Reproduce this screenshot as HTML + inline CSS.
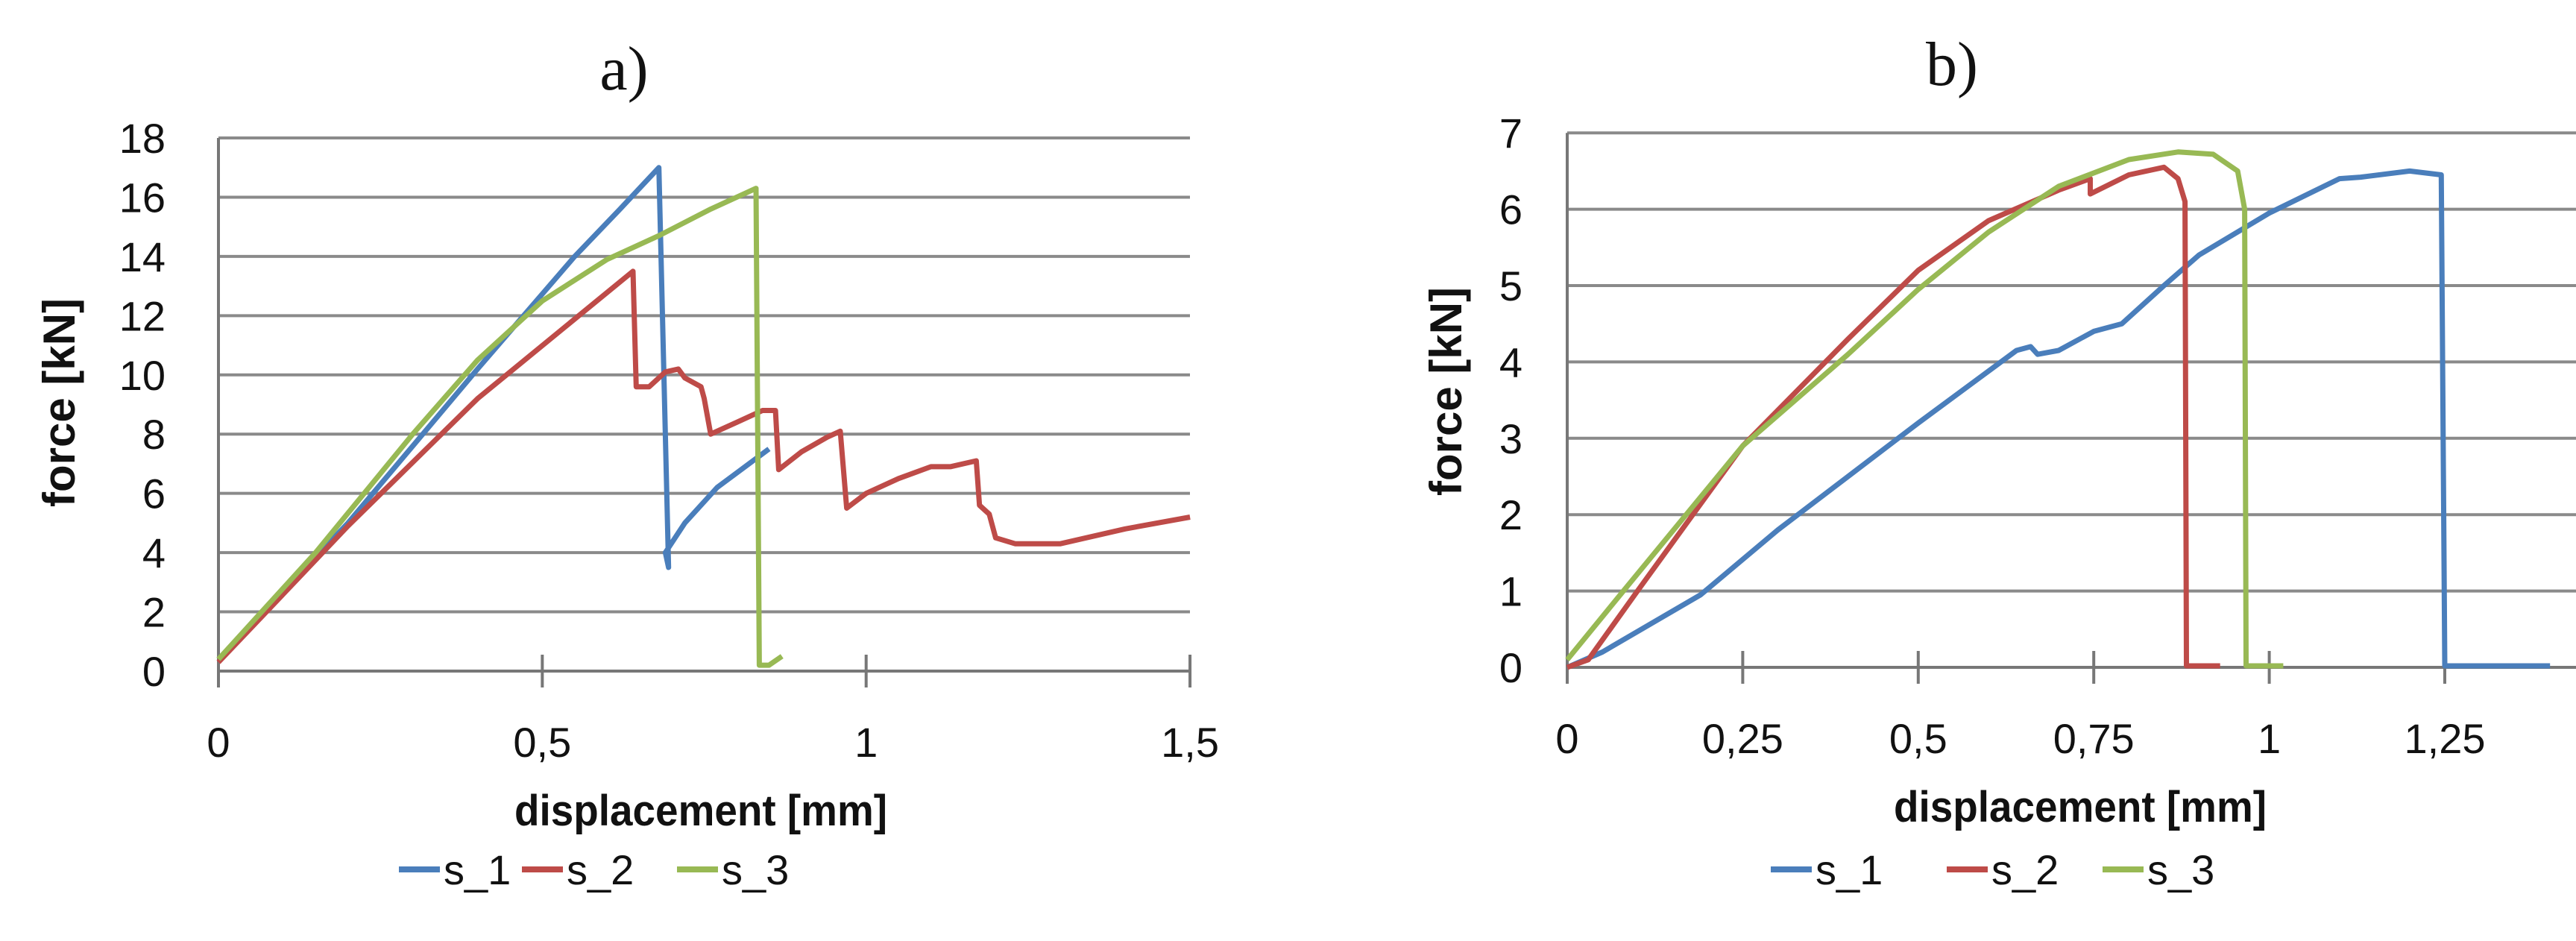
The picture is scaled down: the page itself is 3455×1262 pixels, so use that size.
<!DOCTYPE html>
<html><head><meta charset="utf-8"><style>
html,body{margin:0;padding:0;background:#fff;width:3455px;height:1262px;overflow:hidden}
svg{display:block}
text{font-family:"Liberation Sans",sans-serif;fill:#111}
</style></head><body>
<svg id="s" width="3455" height="1262" viewBox="0 0 3455 1262" xmlns="http://www.w3.org/2000/svg">
<text x="837" y="120" style="font-family:'Liberation Serif',serif" font-size="84" text-anchor="middle">a)</text>
<text x="2618" y="114" style="font-family:'Liberation Serif',serif" font-size="84" text-anchor="middle">b)</text>
<g id="g"></g>
</svg>
<script>
var g=document.getElementById('g'),h='';
var C={b:'#4a7ebb',r:'#be4b48',gr:'#98b954'};
function chart(o){
 var X=function(v){return o.x0+v*o.sx},Y=function(v){return o.y0-v*o.sy};
 for(var i=1;i<=o.ny;i++){var y=Y(i*o.dy);h+='<line x1="'+o.x0+'" y1="'+y+'" x2="'+o.xr+'" y2="'+y+'" stroke="#8a8a8a" stroke-width="4"/>';}
 h+='<line x1="'+o.x0+'" y1="'+o.y0+'" x2="'+o.xr+'" y2="'+o.y0+'" stroke="#777" stroke-width="4"/>';
 h+='<line x1="'+o.x0+'" y1="'+Y(o.ny*o.dy)+'" x2="'+o.x0+'" y2="'+(o.y0+22)+'" stroke="#777" stroke-width="4"/>';
 o.xt.forEach(function(t){var x=X(t[0]);h+='<line x1="'+x+'" y1="'+(o.y0-22)+'" x2="'+x+'" y2="'+(o.y0+22)+'" stroke="#777" stroke-width="4"/>';
  h+='<text x="'+x+'" y="'+(o.y0+115)+'" font-size="56" text-anchor="middle">'+t[1]+'</text>';});
 for(var i=0;i<=o.ny;i++){h+='<text x="'+o.lx+'" y="'+(Y(i*o.dy)+20)+'" font-size="56" text-anchor="end">'+(i*o.dy)+'</text>';}
 o.series.forEach(function(s){var d='';s[1].forEach(function(p,k){d+=(k?'L':'M')+X(p[0]).toFixed(1)+','+Y(p[1]).toFixed(1);});
  h+='<path d="'+d+'" fill="none" stroke="'+s[0]+'" stroke-width="7" stroke-linejoin="round"/>';});
 h+='<text x="'+o.ax+'" y="'+(o.y0+207)+'" font-size="58" font-weight="bold" text-anchor="middle" textLength="500" lengthAdjust="spacingAndGlyphs">displacement [mm]</text>';
 h+='<text transform="translate('+o.fx+','+o.fy+') rotate(-90)" font-size="60" font-weight="bold" text-anchor="middle">force [kN]</text>';
 o.leg.forEach(function(l){h+='<line x1="'+l[0]+'" y1="1166" x2="'+(l[0]+55)+'" y2="1166" stroke="'+l[1]+'" stroke-width="8"/><text x="'+(l[0]+60)+'" y="1186" font-size="56">'+l[2]+'</text>';});
}
chart({x0:293,xr:1596,sx:868.7,y0:900,sy:39.72,dy:2,ny:9,lx:222,ax:940,fx:100,fy:540,
 xt:[[0,'0'],[0.5,'0,5'],[1,'1'],[1.5,'1,5']],
 leg:[[535,C.b,'s_1'],[700,C.r,'s_2'],[908,C.gr,'s_3']],
 series:[
 [C.b,[[0,0.4],[0.2,5],[0.4,10.2],[0.55,14],[0.62,15.6],[0.68,17],[0.695,3.5],[0.69,4],[0.72,5],[0.77,6.2],[0.85,7.5]]],
 [C.r,[[0,0.3],[0.2,4.9],[0.4,9.2],[0.64,13.5],[0.645,9.6],[0.665,9.6],[0.69,10.1],[0.71,10.2],[0.72,9.9],[0.745,9.6],[0.75,9.2],[0.76,8.0],[0.8,8.4],[0.84,8.8],[0.86,8.8],[0.865,6.8],[0.9,7.4],[0.94,7.9],[0.96,8.1],[0.97,5.5],[1.0,6.0],[1.05,6.5],[1.1,6.9],[1.13,6.9],[1.17,7.1],[1.175,5.6],[1.19,5.3],[1.2,4.5],[1.23,4.3],[1.3,4.3],[1.4,4.8],[1.5,5.2]]],
 [C.gr,[[0,0.4],[0.15,4],[0.3,8],[0.4,10.5],[0.5,12.5],[0.6,13.9],[0.68,14.7],[0.76,15.6],[0.83,16.3],[0.835,0.2],[0.85,0.2],[0.87,0.5]]]
 ]});
chart({x0:2102,xr:3455,sx:941.6,y0:895,sy:102.4,dy:1,ny:7,lx:2042,ax:2790,fx:1960,fy:525,
 xt:[[0,'0'],[0.25,'0,25'],[0.5,'0,5'],[0.75,'0,75'],[1,'1'],[1.25,'1,25']],
 leg:[[2375,C.b,'s_1'],[2611,C.r,'s_2'],[2820,C.gr,'s_3']],
 series:[
 [C.b,[[0,0],[0.05,0.2],[0.19,0.95],[0.3,1.8],[0.5,3.2],[0.64,4.15],[0.66,4.2],[0.67,4.1],[0.7,4.15],[0.75,4.4],[0.79,4.5],[0.85,5.0],[0.9,5.4],[1.0,5.95],[1.1,6.4],[1.13,6.42],[1.2,6.5],[1.245,6.45],[1.25,0.02],[1.4,0.02]]],
 [C.r,[[0,0],[0.03,0.1],[0.1,1.0],[0.25,2.9],[0.4,4.3],[0.5,5.2],[0.6,5.85],[0.7,6.25],[0.745,6.4],[0.745,6.2],[0.8,6.45],[0.85,6.55],[0.87,6.4],[0.88,6.1],[0.882,0.02],[0.93,0.02]]],
 [C.gr,[[0,0.1],[0.08,1.0],[0.25,2.9],[0.4,4.1],[0.5,4.95],[0.6,5.7],[0.7,6.3],[0.8,6.65],[0.87,6.75],[0.92,6.72],[0.955,6.5],[0.965,6.0],[0.967,0.02],[1.02,0.02]]]
 ]});
g.innerHTML=h;
</script>
</body></html>
